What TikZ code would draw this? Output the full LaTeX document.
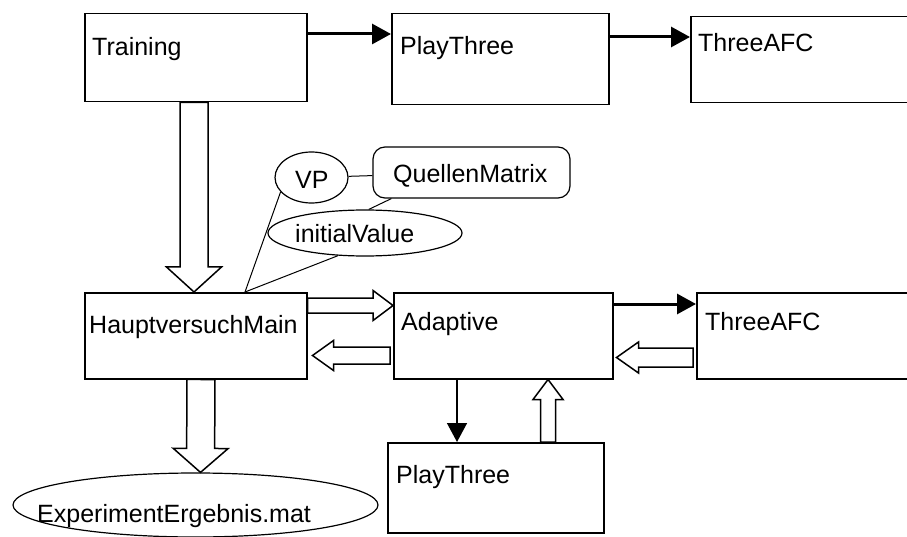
\documentclass[tikz,border=0pt]{standalone}
\usepackage{fontspec}
\setmainfont{Liberation Sans}
\usetikzlibrary{calc,arrows.meta,shapes.geometric}

\tikzset{
  box/.style={draw, line width=1.5pt, rectangle, anchor=north west, inner sep=0pt},
  lbl/.style={anchor=base west, inner sep=0pt, font=\fontsize{25}{30}\selectfont},
  oval/.style={draw, ellipse, line width=1.2pt, inner sep=0pt},
  roundbox/.style={draw, rectangle, rounded corners=12pt, line width=1.2pt, inner sep=0pt},
  link/.style={line width=1pt},
  callarrow/.style={line width=3pt, -{Triangle[length=19pt,width=20pt]}},
  hollow/.style={draw, line width=1.5pt, fill=white, line join=miter},
}

% hollow block arrow: start, tip, shaft half-width, head half-width, head length
\newcommand\hollowarrow[5]{%
  \coordinate (ha-a) at #1;
  \coordinate (ha-b) at #2;
  \coordinate (ha-h) at ($(ha-b)!#5!(ha-a)$);
  \draw[hollow] ($(ha-a)!#3!90:(ha-b)$) -- ($(ha-h)!#3!-90:(ha-a)$)
    -- ($(ha-h)!#4!-90:(ha-a)$) -- (ha-b) -- ($(ha-h)!#4!90:(ha-a)$)
    -- ($(ha-h)!#3!90:(ha-a)$) -- ($(ha-a)!#3!-90:(ha-b)$) -- cycle;}

\begin{document}
\begin{tikzpicture}[x=1pt,y=-1pt]
\useasboundingbox (0,0) rectangle (907,537);
\clip (0,0) rectangle (907,537);
\fill[white] (0,0) rectangle (907,537);

% module boxes
\node[box, minimum width=222pt, minimum height=88pt] (train) at (84,13) {};
\node[box, minimum width=217pt, minimum height=91pt] (play1) at (391,13) {};
\node[box, minimum width=240pt, minimum height=86pt] (afc1)  at (690,16) {};
\node[box, minimum width=222pt, minimum height=86pt] (haupt) at (84,292) {};
\node[box, minimum width=219pt, minimum height=86pt] (adapt) at (393,292) {};
\node[box, minimum width=234pt, minimum height=86pt] (afc2)  at (696,292) {};
\node[box, minimum width=216pt, minimum height=90pt] (play2) at (387,442) {};

% data items
\node[oval, minimum width=73pt, minimum height=51pt] (vp) at (311.5,177.5) {};
\node[roundbox, minimum width=197pt, minimum height=51pt] (quellen) at (471.5,172.5) {};
\node[oval, minimum width=194pt, minimum height=46pt] (init) at (365,233) {};
\node[oval, minimum width=365pt, minimum height=64pt] (exp) at (195.5,505) {};

% block arrows (data flow)
\hollowarrow{($(train.south west)+(110,0)$)}{($(haupt.north west)+(110,0)$)}{14pt}{27.5pt}{25pt}
\hollowarrow{($(haupt.north east)+(0,13.5)$)}{($(adapt.north west)+(0,13.5)$)}{7.5pt}{15pt}{20pt}
\hollowarrow{($(adapt.north west)+(-3,63.5)$)}{($(haupt.north east)+(5,63.5)$)}{8.5pt}{15pt}{21pt}
\hollowarrow{($(afc2.north west)+(-3,65.5)$)}{($(adapt.north east)+(3,65.5)$)}{9.5pt}{15.5pt}{22pt}
\hollowarrow{($(play2.north west)+(161,0)$)}{($(adapt.south west)+(155,0)$)}{7.5pt}{15pt}{20pt}
\hollowarrow{($(haupt.south west)+(117,0)$)}{($(exp.north)+(5,0)$)}{14pt}{27.5pt}{24pt}

% calls
\draw[callarrow] ($(train.north east)+(0,21)$) -- ($(play1.north west)+(0,21)$);
\draw[callarrow] ($(play1.north east)+(0,24)$) -- ($(afc1.north west)+(0,21)$);
\draw[callarrow] ($(adapt.north east)+(0,12)$) -- ($(afc2.north west)+(0,12)$);
\draw[callarrow, line width=1.5pt] ($(adapt.south west)+(64,0)$) -- ($(play2.north west)+(70,0)$);

% parameter links
\draw[link] (vp) -- (quellen);
\draw[link] ($(quellen.south west)+(19,0)$) -- (init.81);
\draw[link] (vp.205) -- ($(haupt.north west)+(161,0)$);
\draw[link] (init.220) -- ($(haupt.north west)+(161,0)$);

% labels
\node[lbl] (train-t) at ($(train.north west)+(8,43)$) {Training};
\node[lbl] (play1-t) at ($(play1.north west)+(9,42)$) {PlayThree};
\node[lbl] (afc1-t)  at ($(afc1.north west)+(8,36)$) {ThreeAFC};
\node[lbl] (haupt-t) at ($(haupt.north west)+(5,41)$) {HauptversuchMain};
\node[lbl] (adapt-t) at ($(adapt.north west)+(8,38)$) {Adaptive};
\node[lbl] (afc2-t)  at ($(afc2.north west)+(9,38)$) {ThreeAFC};
\node[lbl] (play2-t) at ($(play2.north west)+(9,41)$) {PlayThree};
\node[lbl] (vp-t) at (295,189) {VP};
\node[lbl] (quellen-t) at (393,183) {QuellenMatrix};
\node[lbl] (init-t) at (295,243) {initialValue};
\node[lbl] (exp-t) at (37,522) {ExperimentErgebnis.mat};
\end{tikzpicture}
\end{document}
